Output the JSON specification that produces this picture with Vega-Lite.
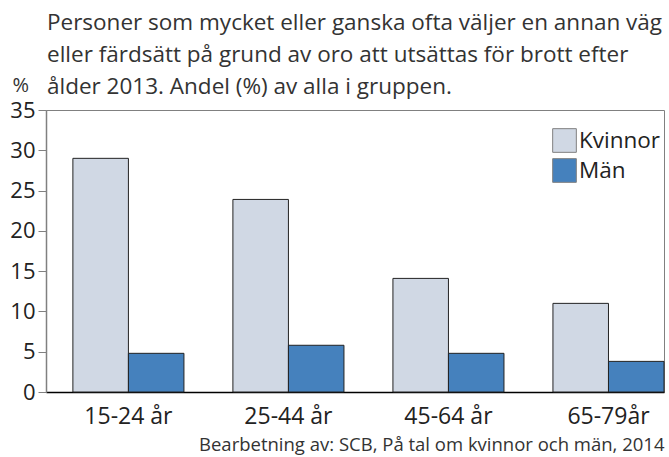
{
  "$schema": "https://vega.github.io/schema/vega-lite/v6.json",
  "width": 618,
  "height": 282,
  "autosize": "none",
  "padding": {"left": 46, "top": 110, "right": 5, "bottom": 65},
  "background": "white",
  "config": {
    "font": "Open Sans",
    "view": {"stroke": "#808080", "strokeWidth": 1}
  },
  "title": {
    "text": [
      "Personer som mycket eller ganska ofta väljer en annan väg",
      "eller färdsätt på grund av oro att utsättas för brott efter",
      "ålder 2013. Andel (%) av alla i gruppen."
    ],
    "anchor": "start",
    "frame": "group",
    "fontSize": 22.5,
    "fontWeight": "normal",
    "color": "#333333",
    "lineHeight": 32,
    "offset": -23,
    "dx": 1
  },
  "data": {
    "values": [
      {"age": "15-24 år", "sex": "Kvinnor", "value": 29.0},
      {"age": "15-24 år", "sex": "Män", "value": 4.8},
      {"age": "25-44 år", "sex": "Kvinnor", "value": 23.9},
      {"age": "25-44 år", "sex": "Män", "value": 5.8},
      {"age": "45-64 år", "sex": "Kvinnor", "value": 14.1},
      {"age": "45-64 år", "sex": "Män", "value": 4.8},
      {"age": "65-79år", "sex": "Kvinnor", "value": 11.0},
      {"age": "65-79år", "sex": "Män", "value": 3.8}
    ]
  },
  "mark": {"type": "bar", "stroke": "#222222", "strokeWidth": 1},
  "encoding": {
    "x": {
      "field": "age",
      "type": "nominal",
      "sort": null,
      "scale": {"paddingInner": 0.306, "paddingOuter": 0.084, "align": 1},
      "axis": {
        "title": "Bearbetning av: SCB, På tal om kvinnor och män, 2014",
        "titleAnchor": "end",
        "titleAlign": "right",
        "titleFontSize": 18.5,
        "titleFontWeight": "normal",
        "titleColor": "#333333",
        "titlePadding": 7,
        "labelAngle": 0,
        "labelFontSize": 23,
        "labelColor": "#222222",
        "labelPadding": 13,
        "ticks": false,
        "domainColor": "#000000",
        "domainWidth": 1.5
      }
    },
    "xOffset": {
      "field": "sex",
      "type": "nominal",
      "scale": {"paddingInner": 0, "paddingOuter": 0}
    },
    "y": {
      "field": "value",
      "type": "quantitative",
      "scale": {"domain": [0, 35], "nice": false},
      "axis": {
        "values": [0, 5, 10, 15, 20, 25, 30, 35],
        "grid": false,
        "title": "%",
        "titleAngle": 0,
        "titleAlign": "left",
        "titleBaseline": "alphabetic",
        "titleX": -34,
        "titleY": -19,
        "titleFontSize": 20,
        "titleFontWeight": "normal",
        "titleColor": "#333333",
        "labelFontSize": 22,
        "labelColor": "#222222",
        "labelPadding": 3,
        "tickSize": 8,
        "tickColor": "#808080",
        "domainColor": "#808080",
        "domainWidth": 1.5
      }
    },
    "color": {
      "field": "sex",
      "type": "nominal",
      "scale": {"domain": ["Kvinnor", "Män"], "range": ["#d0d8e4", "#4581bd"]},
      "legend": {
        "title": null,
        "orient": "none",
        "legendX": 506,
        "legendY": 18,
        "symbolType": "square",
        "symbolSize": 560,
        "symbolStrokeColor": "#808080",
        "symbolStrokeWidth": 1,
        "labelFontSize": 22.5,
        "labelColor": "#222222",
        "labelOffset": 2,
        "rowPadding": 1
      }
    }
  }
}
